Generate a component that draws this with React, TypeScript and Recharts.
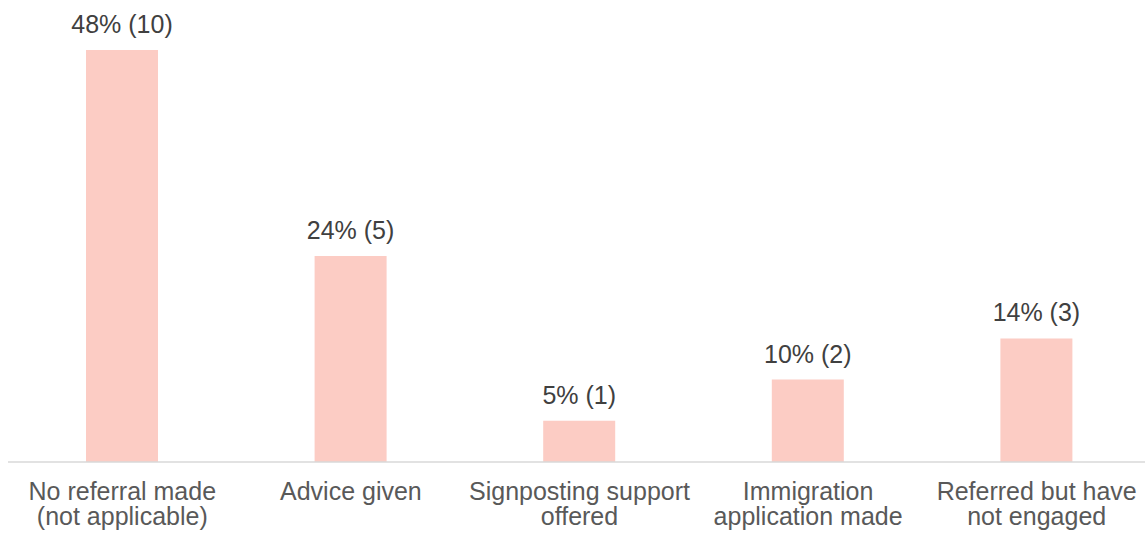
import { BarChart, Bar, XAxis, YAxis, LabelList } from 'recharts';

// Referral outcomes: share of cases and case counts
const categories = [
  'No referral made\n(not applicable)',
  'Advice given',
  'Signposting support\noffered',
  'Immigration\napplication made',
  'Referred but have\nnot engaged',
];
const counts = [10, 5, 1, 2, 3];
const percents = [48, 24, 5, 10, 14];

const data = categories.map((name, i) => ({
  name,
  count: counts[i],
  label: `${percents[i]}% (${counts[i]})`,
}));

const FONT = 'Liberation Sans, Arial, Helvetica, sans-serif';

const CategoryTick = ({ x, y, payload }: any) => {
  const lines = String(payload.value).split('\n');
  return (
    <text x={x} y={y} textAnchor="middle" fill="#595959" fontSize={25} fontFamily={FONT}>
      {lines.map((line, i) => (
        <tspan key={i} x={x} dy={i === 0 ? 38 : 25}>
          {line}
        </tspan>
      ))}
    </text>
  );
};

const ValueLabel = ({ x, y, width, index }: any) => (
  <text
    x={x + width / 2}
    y={y - 17}
    textAnchor="middle"
    fill="#404040"
    fontSize={25}
    fontFamily={FONT}
  >
    {data[index].label}
  </text>
);

export default function App() {
  return (
    <div style={{ position: 'absolute', left: 0, top: 0, width: 1145, height: 540, overflow: 'hidden', background: '#fff' }}>
      <BarChart width={1151} height={540} data={data} margin={{ top: 50, right: 0, bottom: 0, left: 8 }}>
        <XAxis
          dataKey="name"
          height={78}
          interval={0}
          tickLine={false}
          tickSize={0}
          tickMargin={0}
          axisLine={{ stroke: '#D9D9D9', strokeWidth: 1.5 }}
          tick={<CategoryTick />}
        />
        <YAxis hide domain={[0, 10]} />
        <Bar dataKey="count" fill="#FCCCC4" barSize={72} isAnimationActive={false}>
          <LabelList dataKey="label" content={<ValueLabel />} />
        </Bar>
      </BarChart>
    </div>
  );
}
